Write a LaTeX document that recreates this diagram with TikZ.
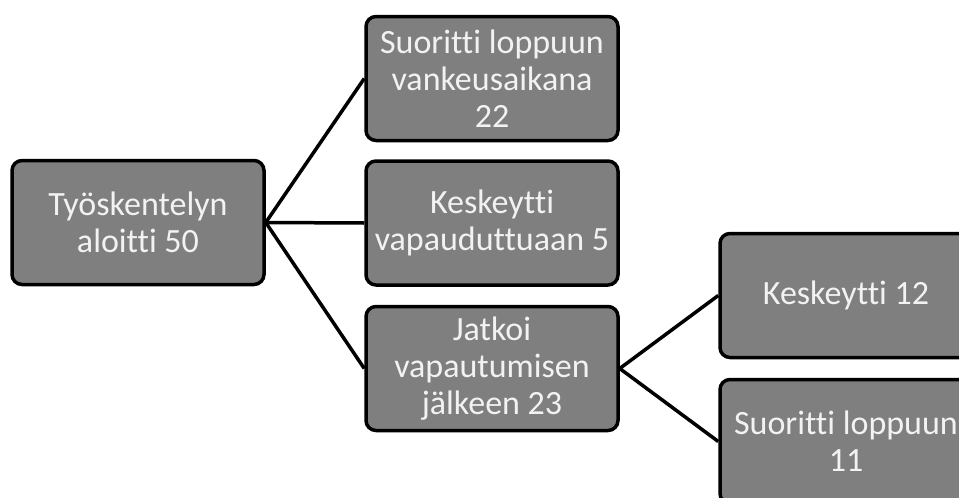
\documentclass[tikz, border = 0pt]{standalone}
\usepackage{fontspec}
\setmainfont[Ligatures = NoCommon]{Carlito}

\definecolor{boxgray}{RGB}{127, 127, 127}
\definecolor{boxtext}{RGB}{242, 242, 242}

\begin{document}
\begin{tikzpicture}[x = 1pt, y = -1pt,
	box/.style = {draw = black, line width = 3.5pt, rounded corners = 10pt, fill = boxgray, text = boxtext,
		minimum width = 252pt, minimum height = 124pt, inner sep = 0pt, align = center,
		font = \fontsize{34}{37}\selectfont},
	link/.style = {draw = black, line width = 3.5pt}]

	% Page size, boxes on the right run off the page

	\useasboundingbox (0, 0) rectangle (959, 498);
	\clip (0, 0) rectangle (959, 498);

	% Starting box

	\node [box] (aloitti) at (138, 222.5) {Työskentelyn\\aloitti 50};

	% Middle column

	\node [box] (vankeus) at (492, 78.5) {Suoritti loppuun\\vankeusaikana\\22};
	\node [box] (keskeytti) at (492, 223) {Keskeytti\\vapauduttuaan 5};
	\node [box] (jatkoi) at (492, 368.5) {Jatkoi\\vapautumisen\\jälkeen 23};

	% Right column

	\node [box] (keskeytti2) at (846, 295.5) {Keskeytti 12};
	\node [box] (suoritti2) at (846, 441.5) {Suoritti loppuun\\11};

	% Connectors

	\foreach \to in {vankeus, keskeytti, jatkoi}
	{
		\draw [link] (aloitti.east) -- (\to.west);
	}

	\foreach \to in {keskeytti2, suoritti2}
	{
		\draw [link] (jatkoi.east) -- (\to.west);
	}

\end{tikzpicture}
\end{document}
